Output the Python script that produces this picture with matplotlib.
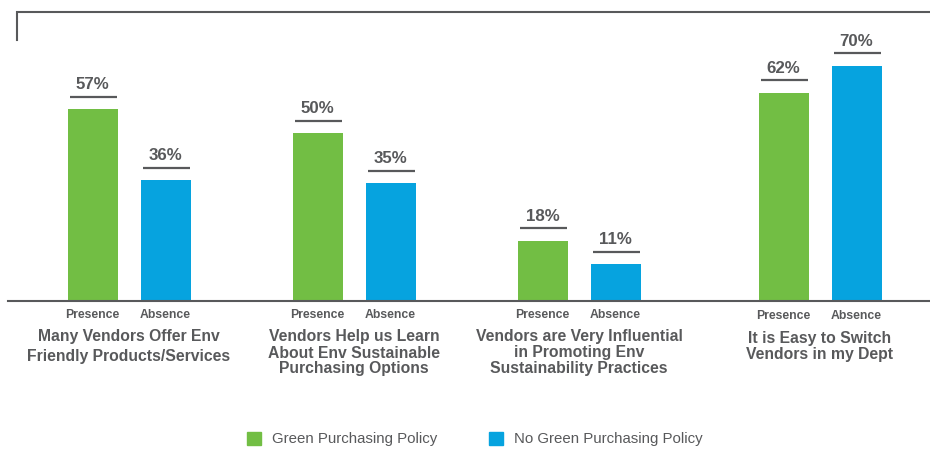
import matplotlib.pyplot as plt
from matplotlib.patches import Rectangle

# data
categories = ['Many Vendors Offer Env\nFriendly Products/Services',
              'Vendors Help us Learn\nAbout Env Sustainable\nPurchasing Options',
              'Vendors are Very Influential\nin Promoting Env\nSustainability Practices',
              'It is Easy to Switch\nVendors in my Dept']
presence = [57, 50, 18, 62]
absence = [36, 35, 11, 70]
bar_labels = ['Presence', 'Absence']
legend_labels = ['Green Purchasing Policy', 'No Green Purchasing Policy']

GREEN = '#72BE44'
BLUE = '#06A3DF'
GREY = '#58595B'

W, H = 930, 449
BASE = 301          # baseline pixel row
PX = 3.36           # pixels per percent

def py(p):
    # pixel row -> data y
    return (BASE - p) / PX

plt.rcParams['font.family'] = ['Liberation Sans', 'DejaVu Sans']

fig = plt.figure(figsize=(W / 100, H / 100), dpi=100)
ax = fig.add_axes([0, 0, 1, 1])
ax.set_xlim(0, W)
ax.set_ylim(py(H), py(0))
ax.axis('off')

centers = [129, 354, 579, 820]
off = 36.5
bw = 50

for i, c in enumerate(centers):
    for x, v, col, lab in [(c - off, presence[i], GREEN, bar_labels[0]),
                           (c + off, absence[i], BLUE, bar_labels[1])]:
        ax.bar(x, v, width=bw, color=col, zorder=2)
        ax.plot([x - bw / 2 + 2, x + bw / 2 - 1], [v + 12.5 / PX] * 2,
                color=GREY, lw=1.6, solid_capstyle='butt')
        ax.text(x, v + 24.5 / PX, f'{v}%', ha='center', va='center',
                fontsize=12.2, fontweight='bold', color=GREY)
        ax.text(x, py(316 if i == 3 else 314.5), lab, ha='center', va='center',
                fontsize=8.8, fontweight='bold', color=GREY)
    lines = categories[i].split('\n')
    start, step = [(337, 20), (337, 16), (337, 16), (339, 15.5)][i]
    for j, ln in enumerate(lines):
        ax.text(c, py(start + j * step), ln, ha='center', va='center',
                fontsize=11.3, fontweight='bold', color=GREY)

# baseline
ax.plot([8, W], [0, 0], color=GREY, lw=1.5, zorder=3)

# top frame
ax.plot([17, 17, W], [py(40), py(11.5), py(11.5)], color=GREY, lw=1.5,
        solid_joinstyle='miter')

# legend
for x0, col, lab in [(247, GREEN, legend_labels[0]), (489, BLUE, legend_labels[1])]:
    ax.add_patch(Rectangle((x0, py(445)), 14, 13 / PX, color=col))
    ax.text(x0 + 25, py(438.5), lab, ha='left', va='center',
            fontsize=10.8, color=GREY)

fig.savefig('out.png', dpi=100)
